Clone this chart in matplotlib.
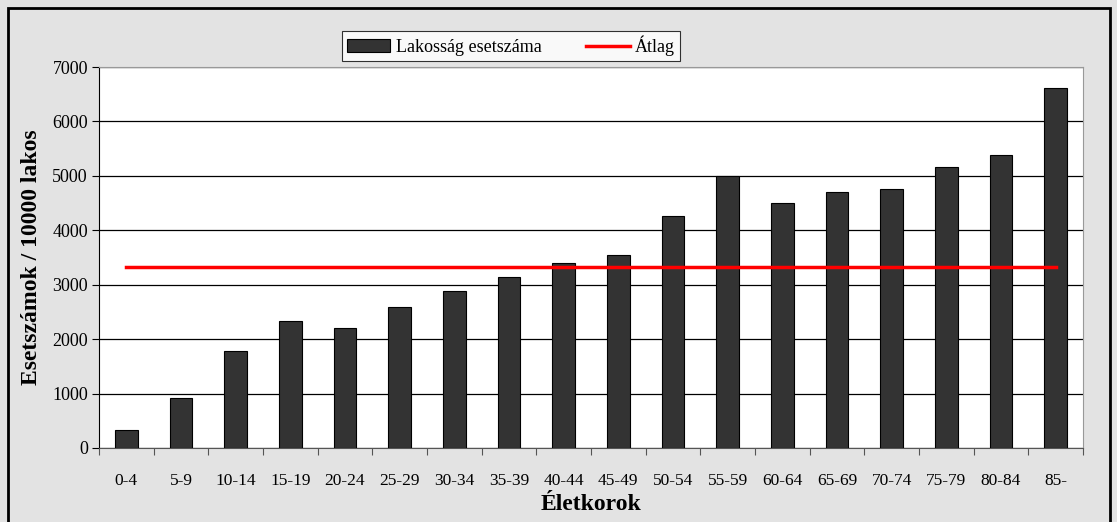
import matplotlib.pyplot as plt
import numpy as np
from matplotlib.patches import Rectangle

categories = ['0-4', '5-9', '10-14', '15-19', '20-24', '25-29', '30-34', '35-39', '40-44',
              '45-49', '50-54', '55-59', '60-64', '65-69', '70-74', '75-79', '80-84', '85-']
cases = [325, 920, 1785, 2335, 2205, 2590, 2890, 3135, 3395,
         3545, 4260, 5005, 4510, 4710, 4760, 5155, 5375, 6605]
avg = [3330] * len(categories)

plt.rcParams['font.family'] = ['Liberation Serif', 'DejaVu Serif']

fig = plt.figure(figsize=(11.17, 5.22), dpi=100, facecolor='#e3e3e3')
ax = fig.add_axes([99/1117, 1 - 448/522, (1083-99)/1117, (448-67)/522])
ax.set_facecolor('white')

x = np.arange(len(categories))
bars = ax.bar(x, cases, width=0.41, color='#333333', edgecolor='black', linewidth=0.8,
              label='Lakosság esetszáma', zorder=3)
line, = ax.plot(x, avg, color='#ff0000', linewidth=2.5, label='Átlag', zorder=4)

ax.set_xlim(-0.5, len(categories) - 0.5)
ax.set_ylim(0, 7000)
ax.set_yticks(range(0, 7001, 1000))
ax.grid(axis='y', color='black', linewidth=0.9, zorder=1)
ax.set_xticks(np.arange(-0.5, len(categories), 1))
ax.set_xticklabels([])
ax.set_xticks(x, minor=True)
ax.set_xticklabels(categories, minor=True)
ax.tick_params(axis='x', which='minor', length=0, pad=18, labelsize=12.5)
ax.tick_params(axis='x', which='major', direction='out', length=5, color='#555555')
ax.tick_params(axis='y', direction='out', length=5, labelsize=13, pad=3)

for s in ['top', 'right']:
    ax.spines[s].set_color('#999999')
ax.spines['left'].set_color('black')
ax.spines['bottom'].set_color('#555555')

fig.text((99 + 1083) / 2 / 1117, 1 - 504/522, 'Életkorok', fontsize=17,
         fontweight='bold', ha='center', va='center')
ax.set_ylabel('Esetszámok / 10000 lakos', fontsize=17, fontweight='bold', labelpad=7)

leg = ax.legend([bars, line], ['Lakosság esetszáma', 'Átlag'],
                loc='upper center', bbox_to_anchor=((511-99)/984, 1 + 45/381), ncol=2,
                frameon=True, fancybox=False, fontsize=13, edgecolor='black',
                handlelength=2.4, columnspacing=2.5, borderpad=0.25, handletextpad=0.3)
leg.get_frame().set_linewidth(0.8)

fig.patches.append(Rectangle((8/1117, -0.05), (1110-8)/1117, 1.05 - 8/522,
                             transform=fig.transFigure, fill=False,
                             edgecolor='black', linewidth=2))

fig.savefig('out.png', dpi=100, facecolor=fig.get_facecolor())
